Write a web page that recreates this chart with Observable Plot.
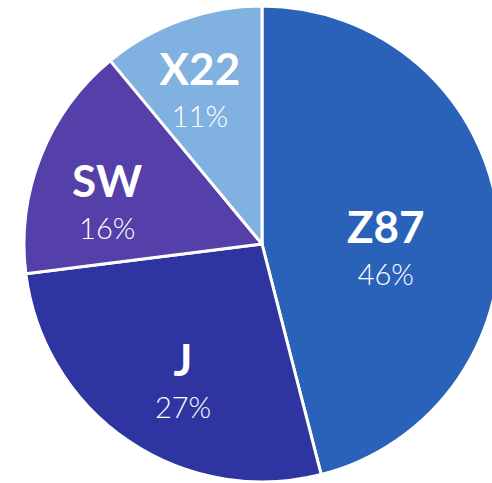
<!DOCTYPE html>
<html>
<head>
<meta charset="utf-8">
<script src="https://cdn.jsdelivr.net/npm/d3@7"></script>
<script src="https://cdn.jsdelivr.net/npm/@observablehq/plot@0.6"></script>
<style>
  html, body { margin: 0; padding: 0; background: #fff; }
</style>
</head>
<body>
<div id="chart"></div>
<script>
const categories = ["Z87", "J", "SW", "X22"];
const shares = [46, 27, 16, 11];
const colors = ["#2a62b9", "#2f35a0", "#5440a8", "#80b1e0"];

const data = categories.map((c, i) => ({category: c, value: shares[i]}));
const pie = d3.pie().sort(null).value(d => d.value)(data);
const slices = pie.map(p => ({...p.data, startAngle: p.startAngle, endAngle: p.endAngle}));

// label at the centre of the largest circle inscribed in each slice
const labels = slices.map(s => {
  const a = (s.startAngle + s.endAngle) / 2;
  const half = Math.min((s.endAngle - s.startAngle) / 2, Math.PI / 2);
  const r = 1.04 / (1 + Math.sin(half));
  return {...s, lx: r * Math.sin(a), ly: r * Math.cos(a)};
});

function pieMark(index, scales) {
  const cx = scales.x(0), cy = scales.y(0);
  const r = scales.x(1) - cx;
  const arc = d3.arc().innerRadius(0).outerRadius(r);
  const g = d3.create("svg:g").attr("transform", `translate(${cx},${cy})`);
  g.selectAll("path").data(slices).join("path")
    .attr("d", d => arc(d))
    .attr("fill", d => scales.color(d.category))
    .attr("stroke", "#fff")
    .attr("stroke-width", 3)
    .attr("stroke-linejoin", "round");
  return g.node();
}

const chart = Plot.plot({
  width: 492,
  height: 483,
  margin: 0,
  x: {domain: [-1, 1], range: [24, 500], axis: null},
  y: {domain: [-1, 1], range: [482, 6], axis: null},
  color: {domain: categories, range: colors},
  style: {background: "#fff"},
  marks: [
    pieMark,
    Plot.text(labels, {x: "lx", y: "ly", text: "category",
      fill: "#fff", fontSize: 44, fontWeight: 700, fontFamily: "Lato"}),
    Plot.text(labels, {x: "lx", y: "ly", text: d => d.value + "%", dy: 47,
      fill: "#fff", fontSize: 29, fontWeight: 300, fontFamily: "Lato"})
  ]
});
document.getElementById("chart").append(chart);
</script>
</body>
</html>
